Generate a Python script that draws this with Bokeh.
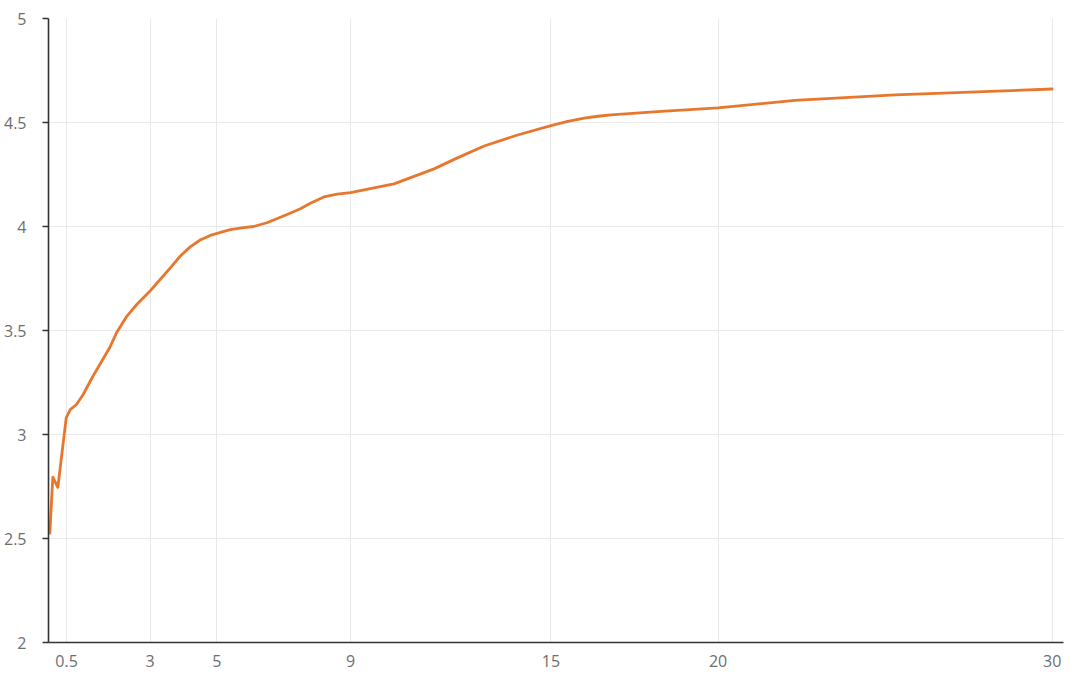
from bokeh.plotting import figure
from bokeh.models import FixedTicker, NumeralTickFormatter, Range1d
from bokeh.embed import file_html
from bokeh.resources import INLINE

# Data (term in years, yield %)
term = [0, 0.09, 0.24, 0.49, 0.61, 0.79, 0.99, 1.29, 1.79, 2.0, 2.29, 2.6, 3.0, 3.6,
        3.9, 4.2, 4.5, 4.8, 5.4, 5.8, 6.1, 6.5, 7.1, 7.5, 7.8, 8.2, 8.6, 9.0, 10.3,
        11.5, 12.2, 13.0, 14.0, 15.0, 15.5, 16.0, 16.4, 16.8, 18.3, 20.0, 22.3,
        25.3, 30.0]
yield_pct = [2.526, 2.795, 2.746, 3.08, 3.12, 3.143, 3.19, 3.28, 3.417, 3.49, 3.565,
             3.625, 3.69, 3.80, 3.857, 3.902, 3.935, 3.957, 3.985, 3.995, 4.0, 4.018,
             4.058, 4.085, 4.112, 4.142, 4.156, 4.163, 4.205, 4.277, 4.33, 4.387,
             4.44, 4.485, 4.505, 4.521, 4.53, 4.537, 4.553, 4.57, 4.606, 4.633, 4.661]

x_ticks = [0.5, 3, 5, 9, 15, 20, 30]
y_ticks = [2, 2.5, 3, 3.5, 4, 4.5, 5]

p = figure(width=1075, height=673, output_backend="svg", toolbar_location=None,
           x_range=Range1d(-0.04, 30.34), y_range=Range1d(2, 5),
           min_border_left=47, min_border_right=12, min_border_top=18, min_border_bottom=31)
p.outline_line_color = None
p.background_fill_color = "white"
p.border_fill_color = "white"

p.line(term, yield_pct, line_color="#E8772E", line_width=2.8,
       line_join="round", line_cap="round")

for ax, ticks in ((p.xaxis, x_ticks), (p.yaxis, y_ticks)):
    ax.ticker = FixedTicker(ticks=ticks)
    ax.formatter = NumeralTickFormatter(format="0.[0]")
    ax.axis_line_color = "#333333"
    ax.axis_line_width = 1.6
    ax.major_label_text_color = "#6e6e6e"
    ax.major_label_text_font = "Open Sans"
    ax.major_label_text_font_size = "16px"
    ax.minor_tick_line_color = None

p.xaxis.major_tick_line_color = None
p.xaxis.major_tick_out = 0
p.xaxis.major_tick_in = 0
p.xaxis.major_label_standoff = 12

p.yaxis.major_tick_line_color = "#333333"
p.yaxis.major_tick_line_width = 1.6
p.yaxis.major_tick_out = 6
p.yaxis.major_tick_in = 0
p.yaxis.major_label_standoff = 16

p.xgrid.ticker = FixedTicker(ticks=x_ticks)
p.ygrid.ticker = FixedTicker(ticks=y_ticks)
p.grid.grid_line_color = "#e9e9e9"
p.grid.grid_line_width = 1

open("out.html", "w").write(file_html(p, INLINE))
